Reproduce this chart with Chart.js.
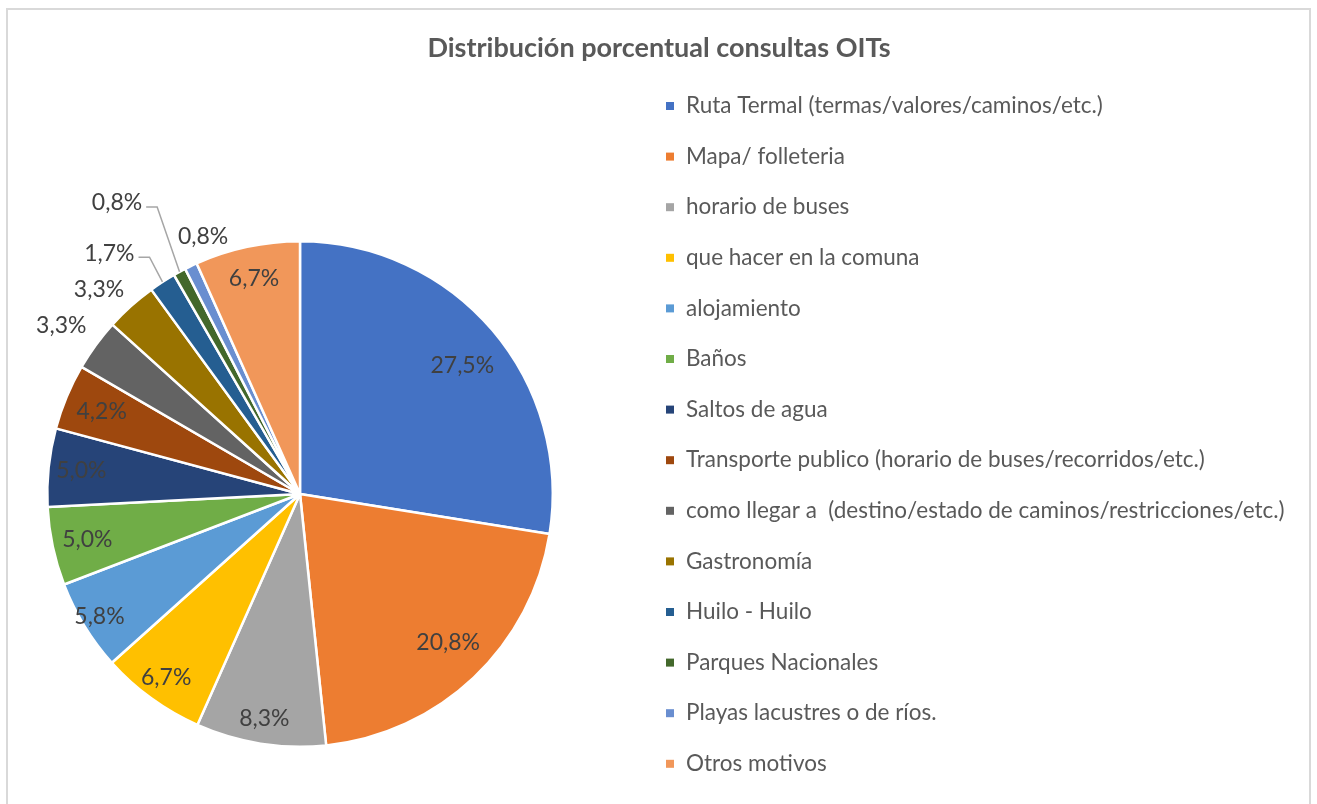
<!DOCTYPE html>
<html>
<head>
<meta charset="utf-8">
<script src="https://cdn.jsdelivr.net/npm/chart.js@4.4.1/dist/chart.umd.min.js"></script>
<style>
  html, body { margin: 0; padding: 0; background: #ffffff; }
  canvas { display: block; }
</style>
</head>
<body>
<canvas id="c" width="1317" height="804"></canvas>
<script>
// ---- data ----
const chartTitle = 'Distribución porcentual consultas OITs';
const categories = [
  'Ruta Termal (termas/valores/caminos/etc.)',
  'Mapa/ folleteria',
  'horario de buses',
  'que hacer en la comuna',
  'alojamiento',
  'Baños',
  'Saltos de agua',
  'Transporte publico (horario de buses/recorridos/etc.)',
  'como llegar a  (destino/estado de caminos/restricciones/etc.)',
  'Gastronomía',
  'Huilo - Huilo',
  'Parques Nacionales',
  'Playas lacustres o de ríos.',
  'Otros motivos'
];
const percentages = [27.5, 20.8, 8.3, 6.7, 5.8, 5.0, 5.0, 4.2, 3.3, 3.3, 1.7, 0.8, 0.8, 6.7];

// ---- styles ----
const sliceColors = ['#4472C4','#ED7D31','#A5A5A5','#FFC000','#5B9BD5','#70AD47','#264478',
                     '#9E480E','#636363','#997300','#255E91','#43682B','#698ED0','#F1975A'];
// label placement: radius as fraction of pie radius, angle shift in degrees, leader line
const labelRadius = [0.82,0.83,0.90,0.90,0.93,0.86,0.87,0.85,1.155,1.135,1.215,1.36,1.09,0.87];
const labelShift  = [2,-1.5,0,0,0,0,0,0,-1,-2.5,-5.4,-3.7,5,0];
const labelLeader = [false,false,false,false,false,false,false,false,false,false,true,true,false,false];

const FONT = 'Lato, "Open Sans", sans-serif';

const framePlugin = {
  id: 'frame',
  beforeDraw(chart) {
    const ctx = chart.ctx;
    ctx.save();
    ctx.fillStyle = '#ffffff';
    ctx.fillRect(0, 0, chart.width, chart.height);
    ctx.strokeStyle = '#d9d9d9';
    ctx.lineWidth = 2;
    ctx.strokeRect(7, 9, 1303, 820);
    // title
    ctx.fillStyle = '#595959';
    ctx.font = 'bold 27px ' + FONT;
    ctx.textAlign = 'center';
    ctx.textBaseline = 'middle';
    ctx.fillText(chartTitle, 659, 48);
    ctx.restore();
  }
};

const labelPlugin = {
  id: 'sliceLabels',
  afterDatasetsDraw(chart) {
    const ctx = chart.ctx;
    const meta = chart.getDatasetMeta(0);
    const ds = chart.data.datasets[0];
    ctx.save();
    ctx.font = '23px ' + FONT;
    ctx.fillStyle = '#404040';
    ctx.textAlign = 'center';
    ctx.textBaseline = 'middle';
    meta.data.forEach((arc, i) => {
      const p = arc.getProps(['x','y','startAngle','endAngle','outerRadius'], true);
      const mid = (p.startAngle + p.endAngle) / 2;
      const a = mid + labelShift[i] * Math.PI / 180;
      const r = p.outerRadius * labelRadius[i];
      const lx = p.x + Math.cos(a) * r;
      const ly = p.y + Math.sin(a) * r;
      const txt = ds.data[i].toFixed(1).replace('.', ',') + '%';
      if (labelLeader[i]) {
        const w = ctx.measureText(txt).width;
        const ex = p.x + Math.cos(mid) * p.outerRadius;
        const ey = p.y + Math.sin(mid) * p.outerRadius;
        const sx = lx + w / 2 + 4;
        const sy = ly + 4;
        ctx.strokeStyle = '#a6a6a6';
        ctx.lineWidth = 1.5;
        ctx.beginPath();
        ctx.moveTo(sx, sy);
        ctx.lineTo(sx + 11, sy);
        ctx.lineTo(ex, ey);
        ctx.stroke();
      }
      ctx.fillText(txt, lx, ly);
    });
    ctx.restore();
  }
};

const legendPlugin = {
  id: 'sideLegend',
  afterDraw(chart) {
    const ctx = chart.ctx;
    const ds = chart.data.datasets[0];
    ctx.save();
    ctx.font = '22.5px ' + FONT;
    ctx.textAlign = 'left';
    ctx.textBaseline = 'middle';
    chart.data.labels.forEach((lab, i) => {
      const y = 106 + i * 50.6;
      ctx.fillStyle = ds.backgroundColor[i];
      ctx.fillRect(666, y - 4, 8, 8);
      ctx.fillStyle = '#595959';
      ctx.fillText(lab, 686, y);
    });
    ctx.restore();
  }
};

new Chart(document.getElementById('c'), {
  type: 'pie',
  data: {
    labels: categories,
    datasets: [{
      data: percentages,
      backgroundColor: sliceColors,
      borderColor: '#ffffff',
      borderWidth: 2.5
    }]
  },
  options: {
    responsive: false,
    animation: false,
    devicePixelRatio: 1,
    layout: { padding: { left: 46, right: 763, top: 240, bottom: 56 } },
    plugins: {
      legend: { display: false },
      title: { display: false },
      tooltip: { enabled: false }
    }
  },
  plugins: [framePlugin, labelPlugin, legendPlugin]
});
</script>
</body>
</html>
